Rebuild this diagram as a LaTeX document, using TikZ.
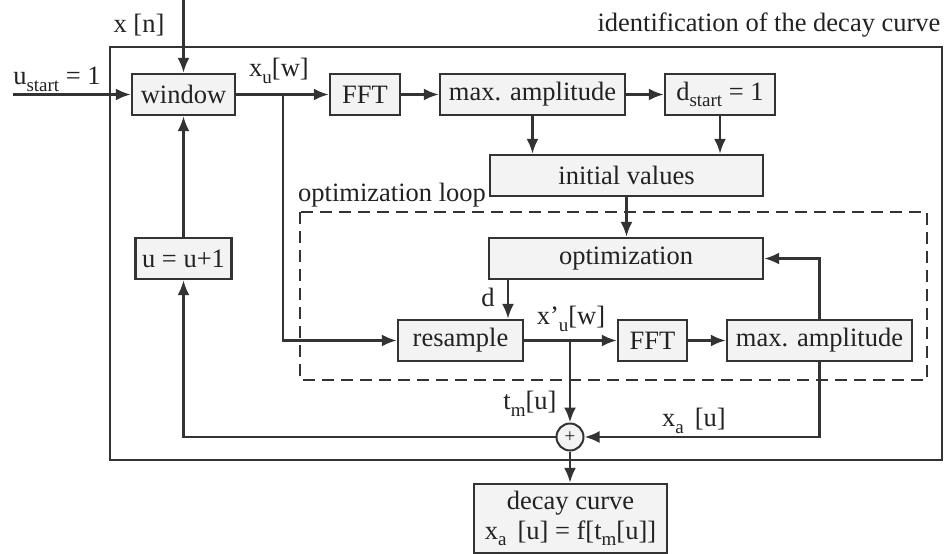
\documentclass[tikz,border=0pt]{standalone}
\usepackage{fontspec}
\setmainfont{Liberation Serif}
\usetikzlibrary{arrows.meta}
\definecolor{ln}{HTML}{333333}
\definecolor{bx}{HTML}{F3F3F3}
\definecolor{tx}{HTML}{222222}
\newcommand\lowsub[1]{\raisebox{-0.55ex}{\fontsize{19}{19}\selectfont #1}}
\begin{document}
\begin{tikzpicture}[x=1pt,y=-1pt,
  font=\fontsize{26.5}{30}\selectfont,
  box/.style={draw=ln, fill=bx, line width=2.3pt, inner sep=0pt, text=tx},
  flow/.style={draw=ln, line width=2.6pt, -{Latex[length=15pt,width=12pt]}},
  lab/.style={text=tx, inner sep=0pt},
  frame/.style={draw=ln, line width=2.6pt}]
\useasboundingbox (0,0) rectangle (945,554);
% frames
\draw[frame] (110,47) rectangle (942,460);
\draw[frame, dash pattern=on 12pt off 7pt] (300,212) rectangle (927,380);
% boxes
\node[box, minimum width=103pt, minimum height=41pt] (win) at (183.5,94.5) {window};
\node[box, minimum width=70pt, minimum height=41pt] (fft1) at (365,94.5) {FFT};
\node[box, minimum width=185pt, minimum height=41pt] (ma1) at (532.5,94.5) {max. amplitude};
\node[box, minimum width=110pt, minimum height=41pt] (ds) at (720,94.5) {d\lowsub{start} = 1};
\node[box, minimum width=273pt, minimum height=41pt] (init) at (626.5,175.5) {initial values};
\node[box, minimum width=274pt, minimum height=41pt] (opt) at (626,258.5) {optimization};
\node[box, minimum width=96pt, minimum height=41pt] (up) at (183.5,258.5) {u = u+1};
\node[box, minimum width=125pt, minimum height=41pt] (res) at (460.5,340.5) {resample};
\node[box, minimum width=69pt, minimum height=41pt] (fft2) at (652.5,340.5) {FFT};
\node[box, minimum width=185pt, minimum height=41pt] (ma2) at (819.5,340.5) {max. amplitude};
\node[draw=ln, fill=bx, line width=2pt, circle, minimum size=27pt, inner sep=0pt, text=tx] (sum) at (570,437) {\fontsize{19}{19}\selectfont +};
\node[box, minimum width=193pt, minimum height=69pt, align=center] (dec) at (570.5,518.5) {decay curve\\ x\lowsub{a}\, [u] = f[t\lowsub{m}[u]]};
% labels
\node[lab] (lxn) at (139,25) {x [n]};
\node[lab] (lus) at (57,79) {u\lowsub{start} = 1};
\node[lab] (lxu) at (279,71) {x\lowsub{u}[w]};
\node[lab] (lid) at (769,25) {identification of the decay curve};
\node[lab] (lol) at (392,195) {optimization loop};
\node[lab] (ld) at (488,297) {d};
\node[lab] (lxu2) at (571,319) {x'\lowsub{u}[w]};
\node[lab] (ltm) at (530,404) {t\lowsub{m}[u]};
\node[lab] (lxa) at (694,421) {x\lowsub{a}\, [u]};
% connectors
\coordinate (xin) at (183.5,0);
\coordinate (uin) at (13,94.5);
\coordinate (br1) at (283,94.5);
\coordinate (br2) at (570,340.5);
\coordinate (dd) at (508,279);
\draw[flow] (xin) -- (win.north);
\draw[flow] (uin) -- (win.west);
\draw[flow] (win.east) -- (fft1.west);
\draw[flow] (br1) |- (res.west);
\draw[flow] (fft1.east) -- (ma1.west);
\draw[flow] (ma1.east) -- (ds.west);
\draw[flow] (ma1.south) -- (ma1.south |- init.north);
\draw[flow] (ds.south) -- (ds.south |- init.north);
\draw[flow] (init.south) -- (init.south |- opt.north);
\draw[flow] (ma2.north) |- (opt.east);
\draw[flow] (dd) -- (dd |- res.north);
\draw[flow] (res.east) -- (fft2.west);
\draw[flow] (fft2.east) -- (ma2.west);
\draw[flow] (br2) -- (sum.north);
\draw[flow] (ma2.south) |- (sum.east);
\draw[flow] (sum.west) -| (up.south);
\draw[flow] (up.north) -- (win.south);
\draw[flow] (sum.south) -- (sum.south |- dec.north);
\end{tikzpicture}
\end{document}
